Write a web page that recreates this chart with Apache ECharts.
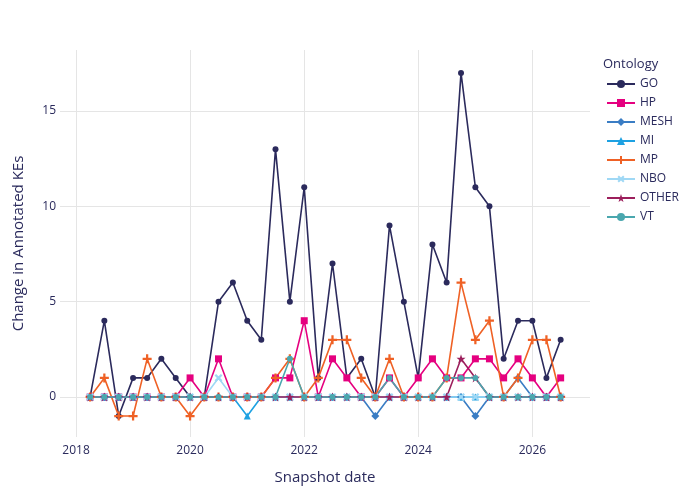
<!DOCTYPE html>
<html>
<head>
<meta charset="utf-8">
<script src="https://cdn.jsdelivr.net/npm/echarts@6/dist/echarts.min.js"></script>
<style>
  html, body { margin: 0; padding: 0; background: #fff; }
  #chart { width: 700px; height: 500px; }
</style>
</head>
<body>
<div id="chart"></div>
<script>
// snapshot dates (quarterly)
const dates = [
  '2018-04-01', '2018-07-01', '2018-10-01', '2019-01-01', '2019-04-01', '2019-07-01',
  '2019-10-01', '2020-01-01', '2020-04-01', '2020-07-01', '2020-10-01', '2021-01-01',
  '2021-04-01', '2021-07-01', '2021-10-01', '2022-01-01', '2022-04-01', '2022-07-01',
  '2022-10-01', '2023-01-01', '2023-04-01', '2023-07-01', '2023-10-01', '2024-01-01',
  '2024-04-01', '2024-07-01', '2024-10-01', '2025-01-01', '2025-04-01', '2025-07-01',
  '2025-10-01', '2026-01-01', '2026-04-01', '2026-07-01'
];

const goVals    = [0, 4, -1, 1, 1, 2, 1, 0, 0, 5, 6, 4, 3, 13, 5, 11, 1, 7, 1, 2, 0, 9, 5, 1, 8, 6, 17, 11, 10, 2, 4, 4, 1, 3];
const hpVals    = [0, 0, 0, 0, 0, 0, 0, 1, 0, 2, 0, 0, 0, 1, 1, 4, 0, 2, 1, 0, 0, 1, 0, 1, 2, 1, 1, 2, 2, 1, 2, 1, 0, 1];
const meshVals  = [0, 0, 0, 0, 0, 0, 0, 0, 0, 0, 0, 0, 0, 0, 0, 0, 0, 0, 0, 0, -1, 0, 0, 0, 0, 0, 0, -1, 0, 0, 1, 0, 0, 0];
const miVals    = [0, 0, 0, 0, 0, 0, 0, 0, 0, 0, 0, -1, 0, 0, 0, 0, 0, 0, 0, 0, 0, 0, 0, 0, 0, 0, 0, 0, 0, 0, 0, 0, 0, 0];
const mpVals    = [0, 1, -1, -1, 2, 0, 0, -1, 0, 0, 0, 0, 0, 1, 2, 0, 1, 3, 3, 1, 0, 2, 0, 0, 0, 1, 6, 3, 4, 0, 1, 3, 3, 0];
const nboVals   = [0, 0, 0, 0, 0, 0, 0, 0, 0, 1, 0, 0, 0, 0, 0, 0, 0, 0, 0, 0, 0, 0, 0, 0, 0, 0, 0, 0, 0, 0, 0, 0, 0, 0];
const otherVals = [0, 0, 0, 0, 0, 0, 0, 0, 0, 0, 0, 0, 0, 0, 0, 0, 0, 0, 0, 0, 0, 0, 0, 0, 0, 0, 2, 1, 0, 0, 0, 0, 0, 0];
const vtVals    = [0, 0, 0, 0, 0, 0, 0, 0, 0, 0, 0, 0, 0, 0, 2, 0, 0, 0, 0, 0, 0, 1, 0, 0, 0, 1, 1, 1, 0, 0, 0, 0, 0, 0];

const yTicks = [0, 5, 10, 15];
const xTicks = ['2018-01-01', '2020-01-01', '2022-01-01', '2024-01-01', '2026-01-01'];

const textColor = '#2a2a5c';
const plusPath = 'path://M-1,-4H1V-1H4V1H1V4H-1V1H-4V-1H-1Z';
const starPath = 'path://M0,-10L2.35,-3.24L9.51,-3.09L3.8,1.24L5.88,8.09L0,4L-5.88,8.09L-3.8,1.24L-9.51,-3.09L-2.35,-3.24Z';

const seriesDefs = [
  { name: 'GO',    vals: goVals,    color: '#2b2a5c', symbol: 'circle',   size: 6 },
  { name: 'HP',    vals: hpVals,    color: '#e5007f', symbol: 'rect',     size: 7 },
  { name: 'MESH',  vals: meshVals,  color: '#3a7dc4', symbol: 'diamond',  size: 8 },
  { name: 'MI',    vals: miVals,    color: '#1da1e2', symbol: 'triangle', size: 7 },
  { name: 'MP',    vals: mpVals,    color: '#ef6125', symbol: plusPath,   size: 9 },
  { name: 'NBO',   vals: nboVals,   color: '#9fd8f5', symbol: plusPath,   size: 9, rotate: 45 },
  { name: 'OTHER', vals: otherVals, color: '#9c1f5c', symbol: starPath,   size: 9 },
  { name: 'VT',    vals: vtVals,    color: '#4aa7ae', symbol: 'circle',   size: 6 }
];

const chart = echarts.init(document.getElementById('chart'), null, { renderer: 'canvas' });

chart.setOption({
  animation: false,
  backgroundColor: '#fff',
  textStyle: { fontFamily: 'Open Sans', color: textColor },
  title: {
    text: 'Ontology',
    left: 598,
    top: 53,
    textStyle: { fontFamily: 'Open Sans', fontSize: 13, fontWeight: 'normal', color: textColor }
  },
  legend: {
    orient: 'vertical',
    left: 601,
    top: 73,
    itemWidth: 28,
    itemHeight: 10,
    itemGap: 7,
    textStyle: { fontFamily: 'Open Sans', fontSize: 12, color: textColor },
    data: seriesDefs.map(s => s.name)
  },
  grid: { left: 60, right: 110, top: 50, bottom: 63 },
  xAxis: {
    type: 'time',
    min: '2017-09-20',
    max: '2027-01-05',
    name: 'Snapshot date',
    nameLocation: 'middle',
    nameGap: 33,
    nameTextStyle: { fontFamily: 'Open Sans', fontSize: 15, color: textColor },
    axisLine: { show: false },
    axisTick: { show: false, customValues: xTicks },
    axisLabel: {
      customValues: xTicks,
      formatter: '{yyyy}',
      fontFamily: 'Open Sans',
      fontSize: 12,
      color: textColor,
      margin: 8
    },
    splitLine: { show: true, lineStyle: { color: '#e5e5e5', width: 1 } }
  },
  yAxis: {
    type: 'value',
    min: -2.1,
    max: 18.2,
    name: 'Change in Annotated KEs',
    nameLocation: 'middle',
    nameGap: 34,
    nameTextStyle: { fontFamily: 'Open Sans', fontSize: 15, color: textColor },
    axisLine: { show: false },
    axisTick: { show: false, customValues: yTicks },
    axisLabel: {
      customValues: yTicks,
      fontFamily: 'Open Sans',
      fontSize: 12,
      color: textColor,
      margin: 4
    },
    splitLine: { show: true, lineStyle: { color: '#e5e5e5', width: 1 } }
  },
  series: seriesDefs.map(s => ({
    name: s.name,
    type: 'line',
    data: dates.map((d, i) => [d, s.vals[i]]),
    symbol: s.symbol,
    symbolSize: s.size,
    symbolRotate: s.rotate || 0,
    showAllSymbol: true,
    lineStyle: { color: s.color, width: 1.6 },
    itemStyle: { color: s.color, borderWidth: 0 }
  }))
});
</script>
</body>
</html>
